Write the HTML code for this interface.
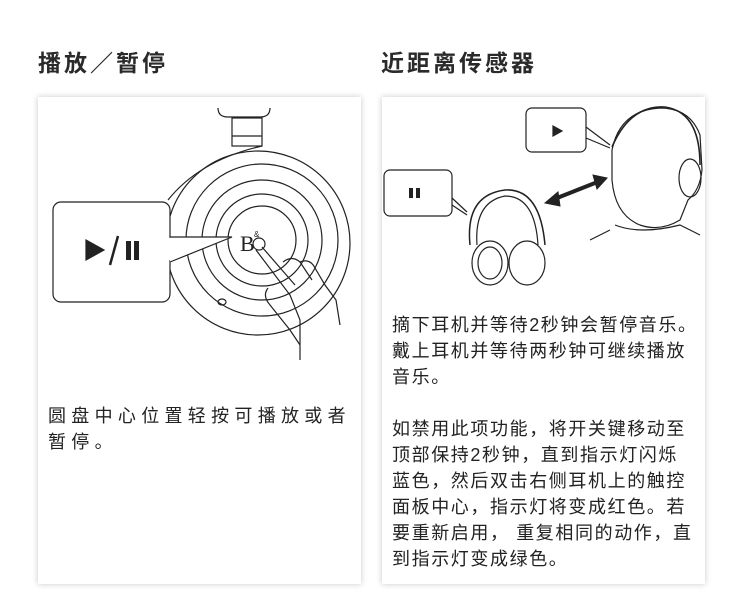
<!DOCTYPE html>
<html><head><meta charset="utf-8"><style>
body{margin:0;width:750px;height:615px;background:#fff;position:relative;overflow:hidden;font-family:"Liberation Sans","Noto Sans CJK SC",sans-serif;color:#222}
.t{position:absolute;top:44px;font-size:23px;font-weight:bold;letter-spacing:3px;color:#2a2a2a}
.card{position:absolute;top:97px;height:487px;background:#fff;box-shadow:0 0 6px rgba(0,0,0,0.22)}
.tx{position:absolute;font-size:18px;line-height:26px;white-space:nowrap;color:#222}
</style></head><body>
<div class="t" style="left:38px">播放／暂停</div>
<div class="t" style="left:381px">近距离传感器</div>
<div class="card" style="left:38px;width:323px"></div>
<div class="card" style="left:382px;width:323px"></div>
<svg style="position:absolute;left:0;top:0" width="750" height="615" fill="none" stroke="#222" stroke-width="1.2">
<path d="M218 108 Q218 117 228 117 L260 117 Q270 117 270 108"/>
<rect x="232" y="118" width="30" height="28"/>
<line x1="232" y1="136" x2="262" y2="136"/>
<circle cx="258" cy="243" r="92"/>
<circle cx="262" cy="240" r="76"/>
<circle cx="262" cy="240" r="60"/>
<circle cx="262" cy="240" r="46"/>
<circle cx="262" cy="240" r="34"/>
<path d="M168 200 Q200 160 262 146" />
<ellipse cx="222" cy="302" rx="4" ry="3"/>
<rect x="53" y="202" width="117" height="100" rx="8" fill="#fff"/>
<path d="M170 237 L232 237 L170 262" fill="#fff"/>
<line x1="170" y1="238" x2="170" y2="260" stroke="#fff" stroke-width="2"/>
<path d="M86 240 L104 250 L86 260 Z" fill="#222"/>
<line x1="118" y1="236" x2="110" y2="265" stroke-width="2.5"/>
<rect x="126" y="241" width="5" height="19" fill="#222" stroke="none"/>
<rect x="134" y="241" width="5" height="19" fill="#222" stroke="none"/>
<text x="240" y="251" font-family="Liberation Serif,serif" font-size="22" fill="#222" stroke="none">B</text>
<text x="254" y="237" font-size="8" fill="#222" stroke="none">&amp;</text>
<circle cx="259" cy="244" r="6"/>
<path d="M256 250 L290 295 L300 320 L300 360 M262 247 L295 285 M283 262 Q292 255 300 262 L312 280 M300 262 Q310 258 315 268 L325 285 L336 300 L340 325 M268 288 Q262 296 270 305 L290 330 L300 345"/>
<rect x="384" y="170" width="68" height="46" rx="6" fill="#fff"/>
<line x1="452" y1="198" x2="467" y2="212"/>
<line x1="452" y1="205" x2="467" y2="215"/>
<rect x="409" y="188" width="4" height="10" fill="#222" stroke="none"/>
<rect x="416" y="188" width="4" height="10" fill="#222" stroke="none"/>
<rect x="526" y="108" width="60" height="44" rx="6" fill="#fff"/>
<line x1="586" y1="127" x2="610" y2="145"/>
<line x1="586" y1="138" x2="610" y2="148"/>
<path d="M553 126 L562 131 L553 136 Z" fill="#222"/>
<path d="M470 245 Q465 195 505 190 Q540 188 545 245" stroke-width="1.5"/>
<path d="M477 245 Q474 202 505 196 Q535 196 538 245"/>
<ellipse cx="490" cy="263" rx="18" ry="22"/>
<ellipse cx="527" cy="263" rx="18" ry="22"/>
<ellipse cx="490" cy="263" rx="12" ry="16"/>
<line x1="552" y1="200" x2="600" y2="181" stroke-width="4"/>
<path d="M545 203 L558 192 L560 206 Z M607 178 L593 175 L597 189 Z" fill="#222" stroke-width="1"/>
<path d="M612 150 Q620 110 660 108 Q690 108 700 135 L702 170 Q700 190 688 200 L680 220 Q660 232 640 225 Q615 215 612 180 Z"/>
<path d="M612 147 Q630 105 665 107 Q700 112 700 165" stroke-width="1.6"/>
<ellipse cx="690" cy="178" rx="11" ry="19"/>
<path d="M615 225 Q640 235 680 225 L700 235 M610 230 L590 240"/>
</svg>
<div class="tx" style="left:48px;top:403px;letter-spacing:5.3px">圆盘中心位置轻按可播放或者<br>暂停。</div>
<div class="tx" style="left:392px;top:312px;letter-spacing:1.6px">摘下耳机并等待2秒钟会暂停音乐。<br>戴上耳机并等待两秒钟可继续播放<br>音乐。<br><br>如禁用此项功能，将开关键移动至<br>顶部保持2秒钟，直到指示灯闪烁<br>蓝色，然后双击右侧耳机上的触控<br>面板中心，指示灯将变成红色。若<br>要重新启用， 重复相同的动作，直<br>到指示灯变成绿色。</div>
</body></html>
